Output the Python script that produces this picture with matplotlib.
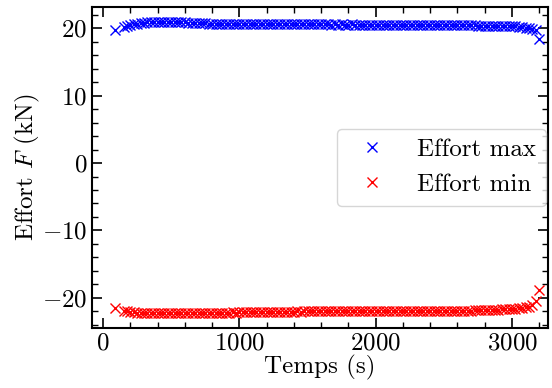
import numpy as np
import matplotlib
matplotlib.use('Agg')
import matplotlib.pyplot as plt

plt.rcParams['font.family'] = 'serif'
plt.rcParams['font.serif'] = ['cmr10']
plt.rcParams['mathtext.fontset'] = 'cm'
plt.rcParams['axes.formatter.use_mathtext'] = True
plt.rcParams['font.size'] = 18

temps = [90, 150, 175, 200, 225, 250, 275, 300, 325, 350,
         375, 400, 425, 450, 475, 500, 525, 550, 575, 600,
         625, 650, 675, 700, 725, 750, 775, 800, 825, 850,
         875, 900, 925, 950, 975, 1000, 1025, 1050, 1075, 1100,
         1125, 1150, 1175, 1200, 1225, 1250, 1275, 1300, 1325, 1350,
         1375, 1400, 1425, 1450, 1475, 1500, 1525, 1550, 1575, 1600,
         1625, 1650, 1675, 1700, 1725, 1750, 1775, 1800, 1825, 1850,
         1875, 1900, 1925, 1950, 1975, 2000, 2025, 2050, 2075, 2100,
         2125, 2150, 2175, 2200, 2225, 2250, 2275, 2300, 2325, 2350,
         2375, 2400, 2425, 2450, 2475, 2500, 2525, 2550, 2575, 2600,
         2625, 2650, 2675, 2700, 2725, 2750, 2775, 2800, 2825, 2850,
         2875, 2900, 2925, 2950, 2975, 3000, 3025, 3050, 3075, 3100,
         3125, 3150, 3175, 3200]

effort_max = [19.8, 20.2, 20.4, 20.5, 20.6, 20.7, 20.8, 20.8, 20.9, 20.9,
              20.9, 21.0, 21.0, 21.0, 21.0, 21.0, 21.0, 20.9, 20.9, 20.9,
              20.8, 20.8, 20.8, 20.8, 20.8, 20.8, 20.7, 20.7, 20.7, 20.7,
              20.7, 20.7, 20.7, 20.7, 20.7, 20.7, 20.7, 20.6, 20.7, 20.6,
              20.6, 20.6, 20.6, 20.6, 20.6, 20.6, 20.6, 20.6, 20.6, 20.6,
              20.6, 20.6, 20.6, 20.6, 20.6, 20.6, 20.6, 20.6, 20.6, 20.6,
              20.6, 20.6, 20.5, 20.6, 20.5, 20.6, 20.5, 20.5, 20.6, 20.5,
              20.5, 20.5, 20.5, 20.5, 20.5, 20.5, 20.5, 20.5, 20.5, 20.5,
              20.5, 20.5, 20.5, 20.5, 20.5, 20.5, 20.5, 20.5, 20.5, 20.5,
              20.5, 20.5, 20.5, 20.5, 20.5, 20.5, 20.5, 20.5, 20.5, 20.5,
              20.5, 20.5, 20.5, 20.5, 20.5, 20.4, 20.4, 20.4, 20.4, 20.4,
              20.4, 20.4, 20.4, 20.4, 20.3, 20.3, 20.3, 20.2, 20.2, 20.1,
              20.0, 19.9, 19.7, 18.4]

effort_min = [-21.5, -21.9, -22.0, -22.1, -22.1, -22.2, -22.2, -22.3, -22.3, -22.3,
              -22.3, -22.3, -22.3, -22.3, -22.3, -22.3, -22.3, -22.3, -22.2, -22.2,
              -22.2, -22.2, -22.2, -22.2, -22.2, -22.2, -22.2, -22.2, -22.2, -22.2,
              -22.2, -22.2, -22.2, -22.1, -22.2, -22.1, -22.1, -22.1, -22.1, -22.1,
              -22.1, -22.1, -22.1, -22.1, -22.1, -22.1, -22.1, -22.1, -22.1, -22.1,
              -22.1, -22.1, -22.0, -22.1, -22.0, -22.0, -22.0, -22.0, -22.0, -22.0,
              -22.0, -22.0, -22.0, -22.0, -22.0, -22.0, -22.0, -22.0, -22.0, -22.0,
              -22.0, -22.0, -22.0, -22.0, -22.0, -22.0, -22.0, -22.0, -22.0, -22.0,
              -22.0, -22.0, -22.0, -22.0, -21.9, -22.0, -21.9, -21.9, -21.9, -21.9,
              -21.9, -21.9, -21.9, -21.9, -21.9, -21.9, -21.9, -21.9, -21.9, -21.9,
              -21.9, -21.9, -21.9, -21.9, -21.8, -21.8, -21.8, -21.8, -21.8, -21.8,
              -21.8, -21.8, -21.7, -21.7, -21.7, -21.6, -21.6, -21.5, -21.5, -21.4,
              -21.3, -21.1, -20.5, -18.8]

fig = plt.figure(figsize=(5.52, 3.88), dpi=100)
ax = fig.add_axes([0.167, 0.155, 0.826, 0.827])

ax.plot(temps, effort_max, 'x', color='b', markersize=7, markeredgewidth=1.0,
        label='Effort max')
ax.plot(temps, effort_min, 'x', color='r', markersize=7, markeredgewidth=1.0,
        label='Effort min')

ax.set_xlim(-80, 3265)
ax.set_xlabel('Temps (s)', labelpad=0)
ax.set_ylabel(r'Effort $F$ (kN)', labelpad=0)
ax.set_xticks([0, 1000, 2000, 3000])
ax.set_yticks([-20, -10, 0, 10, 20])
ax.minorticks_on()
ax.tick_params(which='both', direction='in', top=True, right=True)
ax.tick_params(which='major', length=7, width=1.2)
ax.tick_params(which='minor', length=4, width=1)
for s in ax.spines.values():
    s.set_linewidth(1.5)

ax.legend(loc='center right', borderaxespad=0.1)

fig.savefig('out.png', dpi=100)
